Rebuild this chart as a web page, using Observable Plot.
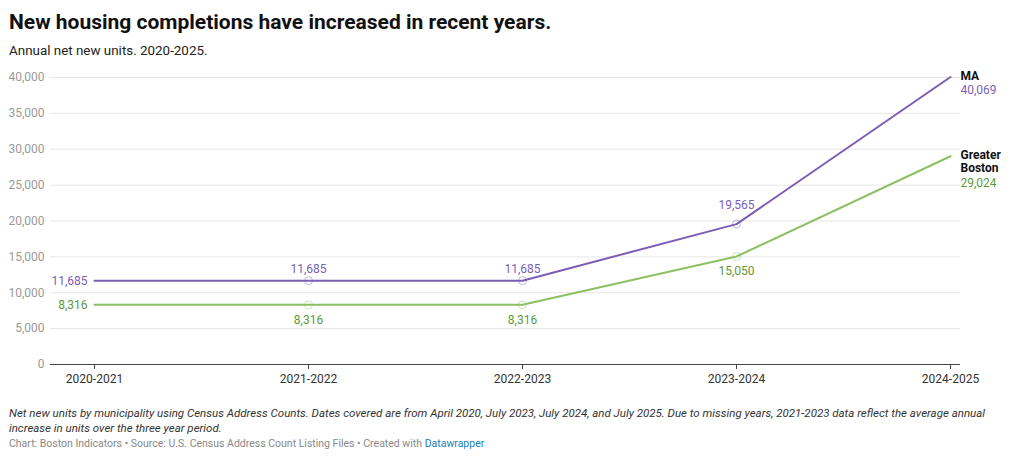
<!DOCTYPE html>
<html>
<head>
<meta charset="utf-8">
<script src="https://cdn.jsdelivr.net/npm/d3@7"></script>
<script src="https://cdn.jsdelivr.net/npm/@observablehq/plot@0.6"></script>
<style>
  html, body { margin: 0; padding: 0; background: #fff; width: 1024px; height: 461px; overflow: hidden; font-family: Roboto, "Noto Sans", sans-serif; }
  .abs { position: absolute; left: 9px; white-space: nowrap; line-height: 1; }
  #title { top: 12px; font-size: 21px; font-weight: 700; color: #111; }
  #subtitle { top: 44px; font-size: 13.4px; color: #222; }
  #chart { position: absolute; left: 0; top: 62px; }
  #notes { top: 406px; font-size: 11.5px; font-style: italic; color: #333; line-height: 14.5px; }
  #credits { top: 439px; font-size: 10.5px; color: #888; }
  #credits span { color: #1a7fc1; }
</style>
</head>
<body>
<div id="title" class="abs">New housing completions have increased in recent years.</div>
<div id="subtitle" class="abs">Annual net new units. 2020-2025.</div>
<div id="chart"></div>
<div id="notes" class="abs">Net new units by municipality using Census Address Counts. Dates covered are from April 2020, July 2023, July 2024, and July 2025. Due to missing years, 2021-2023 data reflect the average annual<br>increase in units over the three year period.</div>
<div id="credits" class="abs">Chart: Boston Indicators • Source: U.S. Census Address Count Listing Files • Created with <span>Datawrapper</span></div>
<script>
const periods = ["2020-2021", "2021-2022", "2022-2023", "2023-2024", "2024-2025"];
const maValues = [11685, 11685, 11685, 19565, 40069];
const gbValues = [8316, 8316, 8316, 15050, 29024];
const seriesNames = ["MA", "Greater Boston"];
const yTicks = [0, 5000, 10000, 15000, 20000, 25000, 30000, 35000, 40000];

const colors = {"MA": "#7b5db4", "Greater Boston": "#8cc063"};
const textColors = {"MA": "#7a5fb6", "Greater Boston": "#5e9a37"};

const data = [];
[maValues, gbValues].forEach((vals, s) => {
  vals.forEach((v, i) => data.push({series: seriesNames[s], period: periods[i], idx: i, value: v}));
});
const fmt = d3.format(",");
const last = periods.length - 1;
const ma = data.filter(d => d.series === "MA");
const gb = data.filter(d => d.series === "Greater Boston");

const chart = Plot.plot({
  width: 1024,
  height: 330,
  marginLeft: 50,
  marginRight: 64,
  marginTop: 15,
  marginBottom: 28,
  style: {fontFamily: "Roboto, 'Noto Sans', sans-serif", fontSize: "12px", background: "#fff"},
  x: {type: "point", domain: periods, range: [94, 950], padding: 0},
  y: {domain: [0, 40000]},
  marks: [
    Plot.gridY(yTicks, {stroke: "#e6e6e6", strokeOpacity: 1}),
    Plot.axisY(yTicks, {tickSize: 0, tickPadding: 6, tickFormat: d => fmt(d), fill: "#999", fontSize: 12, label: null}),
    Plot.ruleY([0], {stroke: "#444", strokeWidth: 1}),
    Plot.axisX({tickSize: 5, tickPadding: 5, stroke: "#444", fill: "#333", fontSize: 12, label: null}),
    Plot.line(data, {x: "period", y: "value", z: "series", stroke: d => colors[d.series], strokeWidth: 2}),
    Plot.dot(data.filter(d => d.idx > 0 && d.idx < last), {x: "period", y: "value", r: 4, fill: "none", stroke: d => colors[d.series], strokeOpacity: 0.45, strokeWidth: 1}),
    // first-point labels
    Plot.text(data.filter(d => d.idx === 0), {x: "period", y: "value", text: d => fmt(d.value), textAnchor: "end", dx: -7, fill: d => textColors[d.series], fontSize: 12}),
    // MA labels above
    Plot.text(ma.filter(d => d.idx > 0 && d.idx < last - 1), {x: "period", y: "value", text: d => fmt(d.value), dy: -12, fill: textColors["MA"], fontSize: 12}),
    Plot.text(ma.filter(d => d.idx === last - 1), {x: "period", y: "value", text: d => fmt(d.value), dy: -19, fill: textColors["MA"], fontSize: 12}),
    // GB labels below
    Plot.text(gb.filter(d => d.idx > 0 && d.idx < last), {x: "period", y: "value", text: d => fmt(d.value), dy: 15, fill: textColors["Greater Boston"], fontSize: 12}),
    // end labels
    Plot.text(data.filter(d => d.idx === last), {x: "period", y: "value", text: d => d.series.replace(" ", "\n"), textAnchor: "start", lineAnchor: "top", dx: 10, dy: -7, lineHeight: 1.12, fill: "#111", fontWeight: 700, fontSize: 12}),
    Plot.text(ma.filter(d => d.idx === last), {x: "period", y: "value", text: d => fmt(d.value), textAnchor: "start", dx: 10, dy: 13, fill: textColors["MA"], fontSize: 12}),
    Plot.text(gb.filter(d => d.idx === last), {x: "period", y: "value", text: d => fmt(d.value), textAnchor: "start", dx: 10, dy: 27, fill: textColors["Greater Boston"], fontSize: 12})
  ]
});
document.getElementById("chart").appendChild(chart);
</script>
</body>
</html>
